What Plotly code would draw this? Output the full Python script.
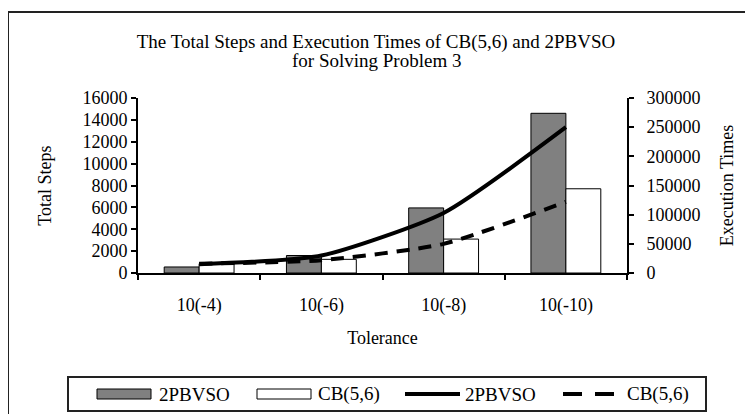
import plotly.graph_objects as go

categories = ["10(-4)", "10(-6)", "10(-8)", "10(-10)"]
steps_2pbvso = [550, 1600, 5950, 14600]
steps_cb56 = [850, 1250, 3100, 7700]
time_2pbvso = [15000, 30000, 103000, 250000]
time_cb56 = [16000, 22000, 50000, 122000]
legend_labels = ["2PBVSO", "CB(5,6)", "2PBVSO", "CB(5,6)"]
title_lines = ["The Total Steps and Execution Times of CB(5,6) and 2PBVSO", "for Solving Problem 3"]

FONT = "Liberation Serif, Times New Roman, serif"

OFF = 8  # page body margin
FW, FH = 753 - OFF, 414 - OFF
# plot area in page pixels
L, R, T, B = 138, 627, 98, 273
W_, H_ = R - L, B - T


def px(x):
    return (x - L) / W_


def py(y):
    return (B - y) / H_


fig = go.Figure()
fig.add_trace(go.Bar(x=categories, y=steps_2pbvso, name=legend_labels[0],
                     marker=dict(color="#808080", line=dict(color="black", width=1))))
fig.add_trace(go.Bar(x=categories, y=steps_cb56, name=legend_labels[1],
                     marker=dict(color="white", line=dict(color="black", width=1))))
fig.add_trace(go.Scatter(x=categories, y=time_2pbvso, name=legend_labels[2], yaxis="y2",
                         mode="lines", line=dict(color="black", width=4, shape="spline", smoothing=0.6)))
fig.add_trace(go.Scatter(x=categories, y=time_cb56, name=legend_labels[3], yaxis="y2",
                         mode="lines", line=dict(color="black", width=4, dash="13px,9px",
                                                 shape="spline", smoothing=0.6)))

shapes = [
    # outer chart border
    dict(type="rect", xref="paper", yref="paper", x0=px(8), x1=px(750), y0=py(430), y1=py(12),
         line=dict(color="#222", width=2), fillcolor="rgba(0,0,0,0)", layer="below"),
    # legend box
    dict(type="rect", xref="paper", yref="paper", x0=px(68), x1=px(706), y0=py(411), y1=py(377),
         line=dict(color="#222", width=2), fillcolor="white"),
    # legend swatches
    dict(type="rect", xref="paper", yref="paper", x0=px(97), x1=px(151), y0=py(399), y1=py(389),
         line=dict(color="black", width=1), fillcolor="#808080"),
    dict(type="rect", xref="paper", yref="paper", x0=px(257), x1=px(311), y0=py(399), y1=py(389),
         line=dict(color="black", width=1), fillcolor="white"),
    dict(type="line", xref="paper", yref="paper", x0=px(405), x1=px(460), y0=py(394), y1=py(394),
         line=dict(color="black", width=4)),
    dict(type="line", xref="paper", yref="paper", x0=px(563), x1=px(614), y0=py(394), y1=py(394),
         line=dict(color="black", width=4, dash="19px,13px")),
]

legend_text_x = [157, 316, 463, 625]
annotations = [
    dict(text=t, xref="paper", yref="paper", x=px(xx), y=py(394), xanchor="left", yanchor="middle",
         showarrow=False, font=dict(size=19, family=FONT, color="black"))
    for t, xx in zip(legend_labels, legend_text_x)
]
# second title line
annotations.append(dict(text=title_lines[1], xref="paper", yref="paper", x=px(376), y=py(60),
                        xanchor="center", yanchor="middle", showarrow=False,
                        font=dict(size=19, family=FONT, color="black")))

fig.update_layout(
    width=FW, height=FH,
    margin=dict(l=L - OFF, r=FW - (R - OFF), t=T - OFF, b=FH - (B - OFF), autoexpand=False),
    paper_bgcolor="white", plot_bgcolor="white",
    showlegend=False,
    font=dict(family=FONT, color="black", size=17),
    title=dict(text=title_lines[0],
               x=px(376), xanchor="center", xref="paper", y=1 - (41 - OFF) / FH, yanchor="middle",
               font=dict(size=19, family=FONT)),
    barmode="group", bargap=0.4286, bargroupgap=0,
    xaxis=dict(showline=True, linecolor="black", linewidth=2, ticks="outside", tickson="boundaries",
               ticklen=5, tickcolor="black", tickwidth=2, showgrid=False, zeroline=False,
               automargin=False, ticklabelstandoff=14,
               tickfont=dict(size=18), title=dict(text="Tolerance", font=dict(size=18), standoff=17)),
    yaxis=dict(range=[0, 16000], dtick=2000, tickformat="d", showline=True, linecolor="black", linewidth=2,
               ticks="outside", ticklen=5, tickcolor="black", tickwidth=2, showgrid=False, zeroline=False,
               automargin=False,
               tickfont=dict(size=18), title=dict(text="Total Steps", font=dict(size=18), standoff=26)),
    yaxis2=dict(range=[0, 300000], dtick=50000, tickformat="d", overlaying="y", side="right", showline=True,
                linecolor="black", linewidth=2, ticks="outside", ticklen=5, tickcolor="black", tickwidth=2,
                showgrid=False, zeroline=False, automargin=False, tickfont=dict(size=18),
                ticklabelstandoff=9,
                title=dict(text="Execution Times", font=dict(size=18), standoff=21)),
    shapes=shapes,
    annotations=annotations,
)

fig.write_html("out.html")
